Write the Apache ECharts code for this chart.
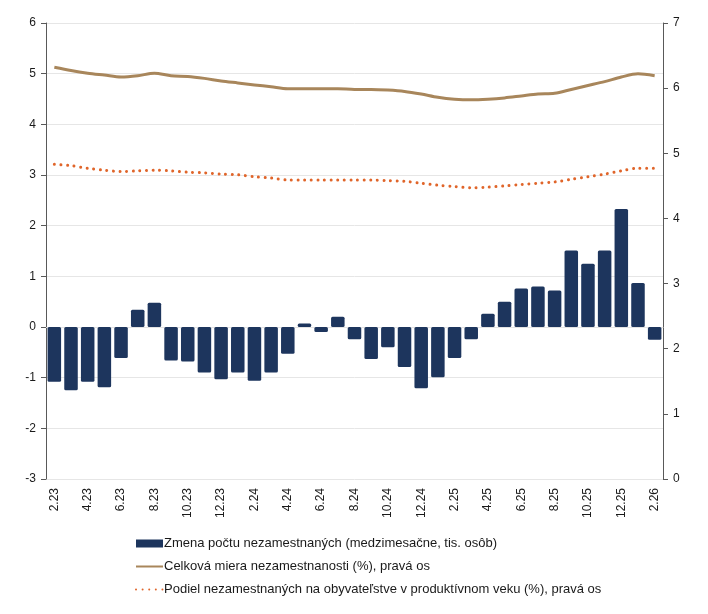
<!DOCTYPE html>
<html><head><meta charset="utf-8">
<script src="https://cdn.jsdelivr.net/npm/echarts@6/dist/echarts.min.js"></script>
<style>html,body{margin:0;padding:0;background:#fff}#c{width:708px;height:614px}</style>
</head><body><div id="c"></div>
<script>
var categories = ['2.23','3.23','4.23','5.23','6.23','7.23','8.23','9.23','10.23','11.23','12.23',
 '1.24','2.24','3.24','4.24','5.24','6.24','7.24','8.24','9.24','10.24','11.24','12.24',
 '1.25','2.25','3.25','4.25','5.25','6.25','7.25','8.25','9.25','10.25','11.25','12.25',
 '1.26','2.26'];
var zmena = [-1.08,-1.25,-1.08,-1.19,-0.61,0.34,0.48,-0.66,-0.68,-0.90,-1.03,
 -0.90,-1.06,-0.90,-0.53,0.07,-0.10,0.20,-0.24,-0.63,-0.40,-0.79,-1.21,
 -0.99,-0.61,-0.24,0.26,0.50,0.76,0.80,0.72,1.51,1.25,1.51,2.33,
 0.87,-0.25];
var celkova = [6.32,6.27,6.23,6.20,6.17,6.19,6.23,6.19,6.18,6.15,6.11,
 6.08,6.05,6.02,5.99,5.99,5.99,5.99,5.98,5.98,5.97,5.95,5.91,
 5.86,5.83,5.82,5.83,5.85,5.88,5.91,5.92,5.98,6.04,6.10,6.17,
 6.22,6.19];
var podiel = [4.83,4.81,4.77,4.74,4.72,4.73,4.74,4.73,4.71,4.70,4.68,
 4.67,4.64,4.62,4.59,4.59,4.59,4.59,4.59,4.59,4.58,4.57,4.54,
 4.51,4.49,4.47,4.48,4.50,4.52,4.54,4.56,4.60,4.64,4.68,4.73,
 4.77,4.77];
var leftTicks = {min:-3, max:6, interval:1};
var rightTicks = {min:0, max:7, interval:1};
var names = ['Zmena počtu nezamestnaných (medzimesačne, tis. osôb)',
 'Celková miera nezamestnanosti (%), pravá os',
 'Podiel nezamestnaných na obyvateľstve v produktívnom veku (%), pravá os'];

var chart = echarts.init(document.getElementById('c'), null, {renderer:'canvas'});
var font = 'Liberation Sans, Arial, sans-serif';
chart.setOption({
  animation:false,
  textStyle:{fontFamily:font},
  grid:{left:46,right:45,top:23,bottom:135,containLabel:false},
  legend:{
    orient:'vertical', left:130, top:532, itemWidth:27, itemHeight:8, itemGap:10,
    textStyle:{fontSize:13,color:'#1a1a1a',fontFamily:font,padding:[0,0,0,-4]},
    data:[{name:names[0],icon:'rect'},
          {name:names[1],itemStyle:{opacity:0}},
          {name:names[2],itemStyle:{opacity:0}}]
  },
  xAxis:{
    type:'category', data:categories, boundaryGap:true,
    axisLine:{show:true,lineStyle:{color:'#e3e3e3'}},
    axisTick:{show:false},
    axisLabel:{interval:1,rotate:90,fontSize:12,color:'#1a1a1a',margin:9,fontFamily:font}
  },
  yAxis:[{
    type:'value', min:leftTicks.min, max:leftTicks.max, interval:leftTicks.interval,
    axisLine:{show:true,lineStyle:{color:'#595959'}},
    axisTick:{show:true,inside:false,length:5,lineStyle:{color:'#595959'}},
    axisLabel:{fontSize:12,color:'#1a1a1a',margin:10,fontFamily:font},
    splitLine:{show:true,lineStyle:{color:'#e6e6e6'}}
  },{
    type:'value', min:rightTicks.min, max:rightTicks.max, interval:rightTicks.interval,
    position:'right',
    axisLine:{show:true,lineStyle:{color:'#595959'}},
    axisTick:{show:true,inside:false,length:5,lineStyle:{color:'#595959'}},
    axisLabel:{fontSize:12,color:'#1a1a1a',margin:10,fontFamily:font},
    splitLine:{show:false}
  }],
  series:[{
    name:names[0], type:'bar', data:zmena, yAxisIndex:0, barWidth:'81%',
    itemStyle:{color:'#1d355d',borderRadius:1.5}
  },{
    name:names[1], type:'line', data:celkova, yAxisIndex:1, smooth:0.3,
    symbol:'none', lineStyle:{color:'#a8865b',width:3}, itemStyle:{color:'#a8865b'}
  },{
    name:names[2], type:'line', data:podiel, yAxisIndex:1, smooth:0.3,
    symbol:'none', lineStyle:{color:'#e0652a',width:3,type:[0.01,6.6],cap:'round'}, itemStyle:{color:'#e0652a'}
  }]
});
</script></body></html>
